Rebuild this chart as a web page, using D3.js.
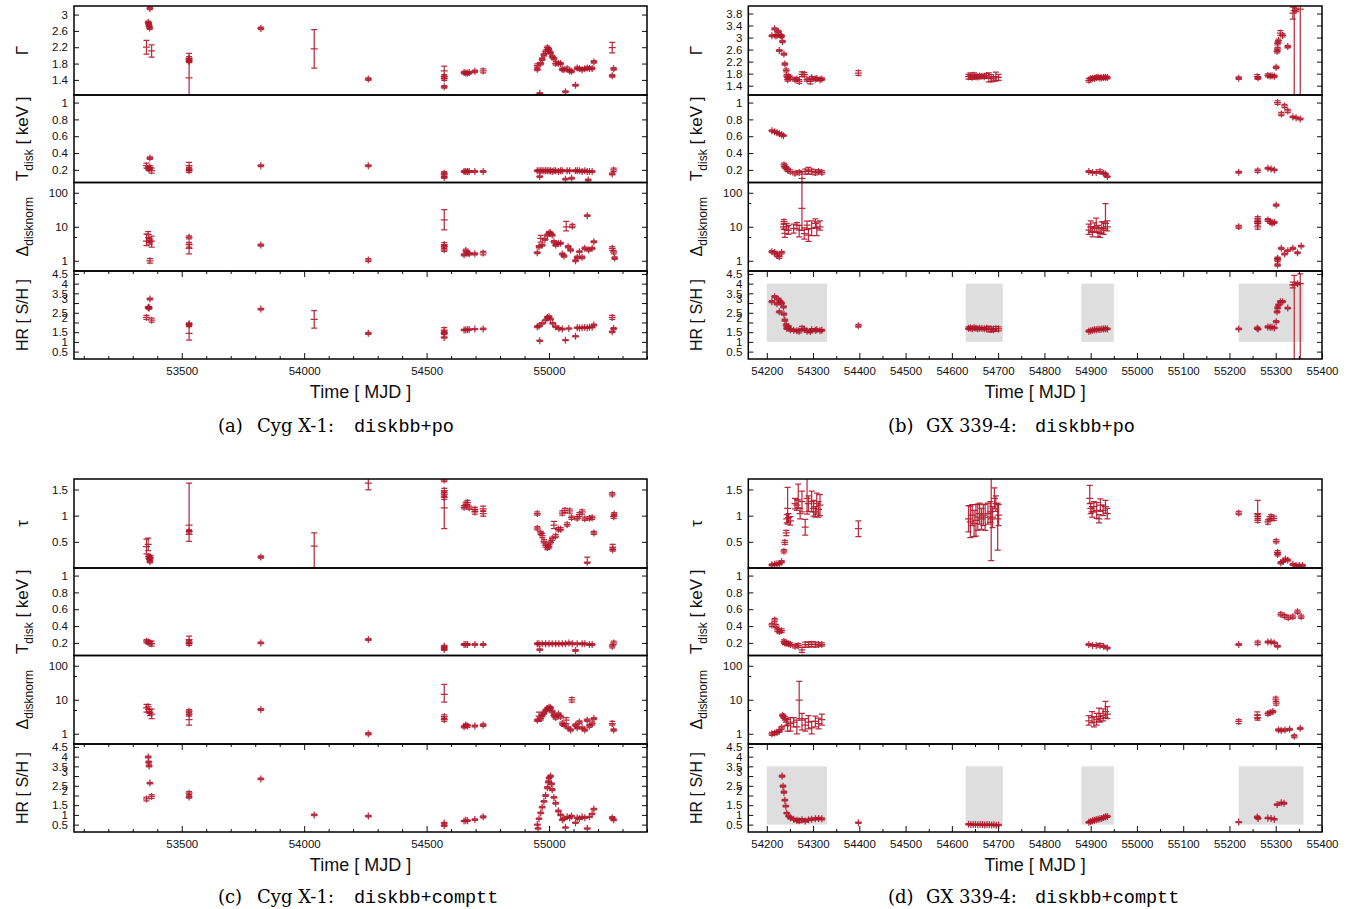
<!DOCTYPE html>
<html>
<head>
<meta charset="utf-8">
<script src="https://cdn.jsdelivr.net/npm/d3@7"></script>
<style>
  body { margin: 0; background: #fff; }
  svg text { font-family: "Liberation Sans", Arial, Helvetica, sans-serif; }
  svg text.serif { font-family: "DejaVu Serif", "Liberation Serif", serif; }
  svg text.mono { font-family: "Liberation Mono", "DejaVu Sans Mono", monospace; }
</style>
</head>
<body>
<svg id="fig" width="1353" height="909"></svg>
<script>
// ******************************** DATA ****************************************
// each point: [MJD, value, err] or [MJD, value, errLow, errHigh]

// ---------- Cyg X-1, diskbb+po ----------
var cygGammaPo = [
  [53356,2.20,0.17],[53363,2.81,0.03],[53365,2.77,0.03],[53367,2.72,0.03],[53369,2.67,0.03],[53370,3.15,0.03],[53377,2.11,0.15],
  [53530,1.93,0.04],[53530,1.89,0.04],[53530,1.85,0.03],[53530,1.45,0.6],
  [53823,2.66,0.03],[54041,2.16,0.47],[54262,1.42,0.03],
  [54572,1.62,0.12],[54572,1.48,0.05],[54572,1.43,0.04],[54572,1.23,0.03],
  [54653,1.58,0.03],[54660,1.57,0.03],[54667,1.56,0.03],[54674,1.58,0.03],[54697,1.61,0.03],[54731,1.62,0.05],
  [54952,1.75,0.04],[54952,1.66,0.03],[54962,1.07,0.02],[54966,1.80,0.03],[54972,1.91,0.03],[54979,2.01,0.03],
  [54986,2.09,0.04],[54993,2.19,0.04],[54997,2.15,0.04],[55000,2.13,0.04],[55006,2.06,0.03],[55013,1.97,0.03],
  [55020,1.92,0.03],[55027,1.80,0.04],[55038,1.81,0.03],[55047,1.80,0.03],[55054,1.66,0.03],[55061,1.65,0.03],
  [55067,1.11,0.02],[55074,1.67,0.04],[55084,1.62,0.03],[55092,1.61,0.03],[55108,1.27,0.02],[55115,1.69,0.03],
  [55124,1.67,0.03],[55135,1.65,0.03],[55146,1.67,0.03],[55156,1.69,0.03],[55165,1.68,0.03],[55176,1.68,0.03],
  [55183,1.84,0.03],
  [55258,2.19,0.13],[55264,1.67,0.03],[55258,1.50,0.03]
];
var cygTdiskPo = [
  [53356,0.25,0.03],[53363,0.22,0.02],[53367,0.21,0.02],[53370,0.34,0.015],[53370,0.23,0.02],[53377,0.19,0.03],
  [53530,0.25,0.04],[53530,0.21,0.02],[53530,0.19,0.02],
  [53823,0.25,0.01],[54262,0.25,0.01],
  [54572,0.16,0.02],[54572,0.14,0.02],[54572,0.11,0.01],
  [54653,0.18,0.01],[54660,0.18,0.02],[54667,0.18,0.01],[54674,0.18,0.01],[54697,0.18,0.01],[54731,0.18,0.01],
  [54952,0.19,0.01],[54959,0.19,0.01],[54962,0.12,0.01],[54966,0.19,0.01],[54972,0.19,0.01],[54979,0.19,0.01],
  [54986,0.19,0.01],[54993,0.19,0.01],[55000,0.19,0.01],[55006,0.19,0.01],[55013,0.18,0.01],[55020,0.19,0.01],
  [55027,0.19,0.01],[55038,0.18,0.01],[55047,0.19,0.01],[55054,0.19,0.01],[55067,0.09,0.01],[55074,0.19,0.01],
  [55084,0.19,0.01],[55092,0.10,0.01],[55108,0.19,0.01],[55115,0.19,0.01],[55124,0.19,0.01],[55135,0.18,0.01],
  [55146,0.19,0.01],[55156,0.18,0.01],[55160,0.08,0.01],[55165,0.18,0.01],[55176,0.18,0.01],
  [55258,0.15,0.01],[55264,0.20,0.02]
];
var cygNormPo = [
  [53356,3.8,1.0,2.3],[53363,6.0,1.2,1.2],[53367,4.0,0.5,0.5],[53370,3.6,0.5,0.8],[53377,3.8,1.3,1.5],[53370,1.0,0.15,0.15],
  [53530,4.9,0.5,0.5],[53530,3.0,0.5,0.5],[53530,2.3,0.7,0.8],
  [53823,2.9,0.2,0.2],[54262,1.05,0.1,0.1],
  [54572,15.8,7.7,16],[54572,3.0,0.3,0.4],[54572,2.6,0.3,0.3],[54572,2.1,0.2,0.3],
  [54653,1.5,0.1,0.1],[54660,2.0,0.2,0.2],[54667,1.7,0.2,0.2],[54674,1.6,0.1,0.1],[54697,1.6,0.1,0.1],[54731,1.7,0.2,0.2],
  [54952,1.73,0.1,0.1],[54959,2.59,0.2,0.2],[54966,4.56,1.0,1.0],[54972,2.9,0.2,0.2],[54983,4.25,0.3,0.3],
  [54993,5.7,0.4,0.4],[55000,6.7,0.5,0.5],[55006,6.5,0.5,0.5],[55013,5.7,0.4,0.4],[55020,3.64,0.3,0.3],
  [55027,2.9,0.2,0.2],[55038,3.25,0.2,0.2],[55047,3.3,0.2,0.2],[55054,1.58,0.1,0.1],[55061,1.38,0.1,0.1],
  [55070,10.0,2.5,4.5],[55078,2.59,0.2,0.2],[55088,2.07,0.15,0.15],[55095,10.5,1.0,1.2],[55108,1.0,0.06,0.06],
  [55115,1.26,0.1,0.1],[55124,1.85,0.1,0.1],[55135,1.26,0.1,0.1],[55146,2.32,0.2,0.2],[55156,21.2,1.0,1.0],
  [55162,2.07,0.15,0.15],[55176,2.32,0.15,0.15],[55183,3.64,0.2,0.2],
  [55258,2.32,0.3,0.3],[55264,1.8,0.2,0.2],[55268,1.2,0.1,0.1]
];
var cygHrPo = [
  [53356,2.26,0.1],[53363,2.76,0.05],[53365,2.78,0.05],[53367,2.74,0.05],[53370,3.21,0.05],[53377,2.12,0.1],
  [53530,1.93,0.05],[53530,1.88,0.05],[53530,1.44,0.35],
  [53823,2.69,0.04],[54041,2.16,0.45],[54262,1.44,0.05],
  [54572,1.61,0.12],[54572,1.50,0.05],[54572,1.42,0.05],[54572,1.23,0.03],
  [54653,1.61,0.03],[54660,1.63,0.03],[54667,1.62,0.03],[54674,1.64,0.03],[54697,1.66,0.03],[54731,1.67,0.04],
  [54952,1.78,0.04],[54959,1.82,0.04],[54962,1.06,0.03],[54972,1.95,0.04],[54986,2.12,0.04],[54993,2.26,0.05],
  [55000,2.29,0.05],[55006,2.17,0.04],[55015,1.95,0.04],[55027,1.78,0.04],[55040,1.69,0.04],[55054,1.66,0.04],
  [55067,1.09,0.03],[55081,1.69,0.03],[55108,1.29,0.03],[55115,1.73,0.03],[55124,1.72,0.03],[55135,1.73,0.03],
  [55146,1.74,0.03],[55156,1.73,0.03],[55165,1.75,0.03],[55176,1.76,0.03],[55183,1.87,0.04],
  [55258,2.26,0.1],[55264,1.69,0.04],[55258,1.52,0.04]
];

// ---------- Cyg X-1, diskbb+comptt ----------
var cygTauTt = [
  [53356,0.41,0.14],[53363,0.45,0.12],[53365,0.22,0.03],[53367,0.19,0.03],[53370,0.17,0.03],[53372,0.21,0.03],[53370,0.12,0.02],
  [53530,0.82,0.1,0.8],[53530,0.70,0.03],[53530,0.64,0.13,0.06],
  [53823,0.21,0.02],[54041,0.42,0.45,0.25],[54262,1.62,0.13,0.1],
  [54572,1.68,0.03],[54572,1.48,0.04],[54572,1.41,0.04],[54572,1.35,0.04],[54572,1.15,0.4,0.3],
  [54653,1.16,0.03],[54660,1.22,0.04],[54667,1.25,0.04],[54674,1.15,0.03],[54697,1.12,0.04],[54697,1.07,0.04],
  [54731,1.13,0.05],[54731,1.04,0.05],
  [54952,1.04,0.03],[54952,0.76,0.03],[54966,0.67,0.03],[54972,0.62,0.04],[54979,0.51,0.03],[54986,0.43,0.03],
  [54993,0.39,0.04],[55000,0.41,0.03],[55006,0.49,0.03],[55013,0.56,0.03],[55020,0.82,0.07],[55027,0.61,0.03],
  [55038,0.74,0.03],[55047,0.74,0.03],[55054,1.05,0.04],[55065,1.10,0.04],[55074,0.83,0.03],[55084,1.09,0.04],
  [55092,0.96,0.03],[55115,0.95,0.03],[55124,1.02,0.04],[55135,1.07,0.04],[55146,0.94,0.03],[55156,0.11,0.02,0.1],
  [55165,0.95,0.03],[55176,0.96,0.03],[55183,0.67,0.03],
  [55258,1.41,0.03],[55264,0.98,0.03],[55266,1.03,0.03],[55260,0.40,0.05],[55260,0.35,0.03]
];
var cygTdiskTt = [
  [53356,0.22,0.02],[53363,0.21,0.02],[53370,0.20,0.02],[53377,0.19,0.03],
  [53530,0.24,0.04],[53530,0.21,0.02],[53530,0.19,0.02],
  [53823,0.20,0.01],[54262,0.24,0.01],
  [54572,0.16,0.01],[54572,0.14,0.01],[54572,0.12,0.01],
  [54653,0.18,0.01],[54660,0.18,0.01],[54667,0.18,0.01],[54697,0.18,0.01],[54731,0.18,0.01],
  [54952,0.19,0.01],[54959,0.19,0.01],[54962,0.12,0.01],[54972,0.19,0.01],[54986,0.19,0.01],[55000,0.19,0.01],
  [55013,0.19,0.01],[55027,0.19,0.01],[55040,0.19,0.01],[55054,0.19,0.01],[55067,0.19,0.01],[55081,0.20,0.01],
  [55095,0.19,0.01],[55108,0.11,0.01],[55115,0.19,0.01],[55135,0.19,0.01],[55146,0.19,0.01],[55165,0.18,0.01],
  [55176,0.18,0.01],
  [55258,0.16,0.02],[55264,0.20,0.02]
];
var cygNormTt = [
  [53356,5.8,1.5,1.5],[53363,6.2,1.0,1.0],[53367,4.5,0.5,0.6],[53370,4.2,0.8,1.0],[53377,3.8,1.0,1.5],
  [53530,4.6,0.5,0.5],[53530,3.8,0.5,0.5],[53530,2.6,0.8,1.0],
  [53823,5.2,0.3,0.3],[54262,1.0,0.08,0.08],
  [54572,14.5,6,14],[54572,3.2,0.4,0.4],[54572,2.6,0.3,0.3],
  [54653,1.6,0.1,0.1],[54660,1.8,0.15,0.15],[54667,1.7,0.15,0.15],[54697,1.7,0.1,0.1],[54731,1.8,0.15,0.15],
  [54952,2.5,0.2,0.2],[54959,3.3,1.0,1.0],[54966,2.8,0.3,0.3],[54972,3.5,0.3,0.3],[54979,4.0,0.3,0.3],
  [54986,4.8,0.4,0.4],[54993,5.5,0.5,0.5],[55000,6.0,0.5,0.5],[55006,5.8,0.5,0.5],[55013,4.5,0.4,0.4],
  [55020,3.5,0.3,0.3],[55027,3.0,0.3,0.3],[55038,3.8,0.3,0.3],[55047,3.2,0.3,0.3],[55054,2.0,0.2,0.2],
  [55061,1.8,0.15,0.15],[55070,2.5,0.5,0.5],[55078,1.5,0.1,0.1],[55088,1.3,0.1,0.1],[55093,10,1.5,1.5],
  [55108,1.8,0.15,0.15],[55115,1.5,0.1,0.1],[55124,2.2,0.2,0.2],[55135,1.5,0.1,0.1],[55146,1.3,0.1,0.1],
  [55156,2.5,0.2,0.2],[55165,1.7,0.15,0.15],[55176,2.0,0.2,0.2],[55183,2.8,0.2,0.2],
  [55258,2.0,0.2,0.3],[55264,1.3,0.1,0.1]
];
var cygHrTt = [
  [53356,1.82,0.1],[53363,3.98,0.05],[53365,3.72,0.05],[53367,3.52,0.05],[53370,2.64,0.04],[53377,1.95,0.1],
  [53530,2.12,0.08],[53530,1.92,0.06],
  [53823,2.85,0.04],[54041,1.0,0.04],[54262,0.94,0.04],
  [54572,0.58,0.04],[54572,0.45,0.04],
  [54653,0.68,0.03],[54660,0.72,0.03],[54667,0.70,0.03],[54697,0.76,0.04],[54731,0.90,0.05],
  [54952,0.5,0.03],[54955,0.3,0.03],[54959,0.8,0.03],[54966,1.1,0.04],[54972,1.4,0.04],[54979,1.7,0.04],
  [54986,2.0,0.05],[54993,2.4,0.05],[54997,2.7,0.05],[55000,2.9,0.05],[55006,3.0,0.05],[55010,2.6,0.05],
  [55013,2.3,0.05],[55020,1.9,0.04],[55027,1.6,0.04],[55038,1.2,0.04],[55047,1.0,0.04],[55054,0.75,0.03],
  [55061,0.8,0.03],[55067,0.35,0.03],[55074,0.9,0.03],[55084,0.85,0.03],[55092,0.95,0.03],[55108,0.6,0.03],
  [55115,0.85,0.03],[55124,0.8,0.03],[55135,0.9,0.03],[55146,0.85,0.03],[55156,0.3,0.03],[55165,0.9,0.03],
  [55176,1.05,0.03],[55183,1.3,0.04],
  [55258,0.85,0.06],[55264,0.75,0.05]
];

// ---------- GX 339-4, diskbb+po ----------
var gxGammaPo = [
  [54211,3.06,0.03],[54217,3.29,0.03],[54218,3.06,0.03],[54222,3.06,0.04],[54225,3.20,0.04],[54227,2.57,0.03],
  [54229,3.07,0.04],[54232,3.05,0.04],[54234,2.87,0.04],[54237,2.45,0.03],[54239,2.12,0.04],[54242,1.91,0.05],
  [54243,1.73,0.05],[54245,1.60,0.05],[54247,1.70,0.06],[54251,1.66,0.06],[54261,1.60,0.05],[54265,1.62,0.05],
  [54270,1.54,0.06],[54276,1.78,0.08],[54281,1.78,0.06],[54287,1.60,0.05],[54294,1.54,0.08],[54297,1.66,0.05],
  [54305,1.62,0.05],[54308,1.64,0.04],[54315,1.60,0.04],[54319,1.62,0.04],
  [54398,1.82,0.08],
  [54636,1.70,0.08],[54640,1.73,0.1],[54644,1.68,0.07],[54648,1.75,0.08],[54652,1.70,0.06],[54656,1.69,0.06],
  [54660,1.72,0.06],[54665,1.71,0.05],[54670,1.70,0.06],[54675,1.73,0.08],[54680,1.68,0.15],[54685,1.65,0.12],
  [54690,1.63,0.07],[54695,1.70,0.15],[54701,1.68,0.1],
  [54896,1.58,0.06],[54900,1.63,0.05],[54904,1.65,0.05],[54908,1.64,0.04],[54912,1.66,0.05],[54916,1.68,0.06],
  [54920,1.65,0.04],[54924,1.66,0.04],[54928,1.67,0.04],[54932,1.68,0.05],[54936,1.67,0.04],
  [55220,1.65,0.04],[55260,1.70,0.07],[55262,1.66,0.04],[55283,1.74,0.05],[55288,1.72,0.04],[55292,1.73,0.04],
  [55297,1.71,0.04],[55301,2.01,0.04],[55303,2.54,0.05],[55304,2.62,0.05],[55304,2.81,0.05],[55306,2.90,0.05],
  [55310,3.15,0.08],[55315,3.07,0.05],[55326,2.70,0.04],[55337,3.81,0.2],[55340,3.90,3.5,0.5],[55344,3.92,0.06],
  [55353,3.95,3.5,0.5]
];
var gxTdiskPo = [
  [54211,0.666,0.01],[54217,0.654,0.01],[54222,0.642,0.01],[54227,0.63,0.01],[54232,0.618,0.01],[54236,0.607,0.01],
  [54237,0.259,0.02],[54239,0.24,0.02],[54242,0.22,0.02],[54245,0.20,0.02],[54251,0.18,0.02],[54261,0.16,0.02],
  [54270,0.17,0.02],[54276,0.10,0.08,0.08],[54283,0.18,0.03],[54290,0.19,0.04],[54297,0.18,0.03],[54305,0.17,0.03],
  [54312,0.18,0.02],[54319,0.17,0.02],
  [54896,0.18,0.01],[54904,0.17,0.01],[54912,0.17,0.01],[54920,0.18,0.02],[54928,0.16,0.01],[54932,0.15,0.01],
  [54936,0.12,0.01],
  [55220,0.172,0.01],[55261,0.19,0.02],[55283,0.22,0.01],[55290,0.21,0.01],[55297,0.20,0.01],
  [55304,1.0,0.02],[55312,0.864,0.02],[55319,0.96,0.02],[55326,0.9,0.02],[55337,0.83,0.01],[55344,0.82,0.01],
  [55353,0.805,0.01]
];
var gxNormPo = [
  [54211,1.85,0.15,0.15],[54217,1.75,0.15,0.15],[54222,1.47,0.15,0.15],[54227,1.32,0.15,0.15],[54232,1.75,0.15,0.15],
  [54236,10.0,1.5,2.0],[54237,14.1,2.0,2.0],[54239,6.4,1.5,2.0],[54243,10.0,2.0,2.5],[54247,8.0,2.0,3.0],
  [54258,9.0,2.5,3.0],[54265,11.2,2.5,2.0],[54270,8.0,3.0,3.0],[54276,34.8,27,170],[54281,6.3,2.0,3.0],
  [54287,11.2,3.0,3.5],[54290,5.7,2.0,3.0],[54297,9.0,3.5,6.0],[54305,12.6,3.0,4.5],[54308,9.0,3.5,5.0],
  [54315,10.0,2.0,5.0],
  [54896,8.0,2.0,4.0],[54900,10.0,3.0,5.0],[54904,7.0,2.0,3.0],[54908,9.0,2.0,4.0],[54912,10.0,3.0,8.0],
  [54916,7.0,2.0,4.0],[54920,6.4,1.5,3.0],[54924,9.0,2.5,5.0],[54928,8.0,2.0,6.0],[54932,12.6,4.0,35],
  [54936,10.0,2.5,5.0],
  [55220,10.0,1.0,1.0],[55261,17.7,2.0,2.0],[55261,14.1,1.5,1.5],[55261,12.6,1.5,1.5],[55261,10.0,1.5,2.5],
  [55283,15.8,1.5,1.5],[55288,14.1,1.5,1.5],[55292,12.6,1.0,1.0],[55297,13.5,1.0,1.0],[55301,43.6,3.0,3.0],
  [55304,1.18,0.1,0.1],[55304,0.75,0.06,0.06],[55304,1.05,0.1,0.1],[55312,2.32,0.15,0.15],[55319,1.58,0.1,0.1],
  [55326,1.98,0.1,0.1],[55337,2.32,0.15,0.15],[55347,1.72,0.1,0.1],[55355,2.7,0.15,0.15]
];
var gxHrPo = [
  [54211,3.07,0.05],[54217,3.33,0.05],[54222,2.96,0.05],[54225,3.2,0.05],[54227,2.55,0.05],[54229,3.07,0.05],
  [54232,3.0,0.05],[54236,2.8,0.05],[54237,2.43,0.05],[54239,2.12,0.05],[54242,1.87,0.06],[54243,1.70,0.06],
  [54247,1.78,0.06],[54251,1.62,0.06],[54258,1.60,0.06],[54265,1.58,0.06],[54270,1.55,0.08],[54276,1.70,0.1],
  [54281,1.65,0.06],[54287,1.55,0.06],[54294,1.53,0.06],[54297,1.62,0.06],[54305,1.60,0.06],[54308,1.62,0.05],
  [54315,1.58,0.05],[54319,1.60,0.05],
  [54398,1.83,0.07],
  [54636,1.70,0.07],[54640,1.72,0.08],[54644,1.68,0.06],[54648,1.73,0.07],[54652,1.70,0.06],[54656,1.68,0.06],
  [54660,1.70,0.06],[54665,1.69,0.05],[54670,1.68,0.06],[54675,1.70,0.08],[54680,1.66,0.15],[54685,1.64,0.12],
  [54690,1.62,0.07],[54695,1.68,0.12],[54701,1.67,0.1],
  [54896,1.55,0.05],[54900,1.58,0.05],[54904,1.60,0.05],[54908,1.62,0.04],[54912,1.62,0.05],[54916,1.65,0.05],
  [54920,1.64,0.04],[54924,1.66,0.04],[54928,1.66,0.04],[54932,1.68,0.05],[54936,1.67,0.04],
  [55220,1.67,0.04],[55260,1.70,0.06],[55262,1.66,0.04],[55283,1.77,0.05],[55288,1.75,0.04],[55292,1.76,0.04],
  [55297,1.72,0.04],[55301,2.04,0.05],[55303,2.55,0.05],[55304,2.75,0.05],[55306,2.9,0.05],[55310,3.07,0.06],
  [55315,3.07,0.05],[55326,2.74,0.04],[55337,3.93,0.15],[55340,3.93,3.9,0.5],[55347,4.0,0.06],[55353,4.0,3.9,0.5]
];

// ---------- GX 339-4, diskbb+comptt ----------
var gxTauTt = [
  [54211,0.06,0.02],[54217,0.07,0.02],[54222,0.08,0.02],[54227,0.08,0.02],[54232,0.12,0.02],[54237,0.32,0.03],
  [54239,0.49,0.04],[54242,0.67,0.05],[54243,0.94,0.08],[54245,1.14,0.3,0.4],[54247,0.96,0.08],[54251,0.90,0.08],
  [54261,1.23,0.1],[54265,1.20,0.1],[54268,1.30,0.15,0.3],[54272,1.04,0.1],[54276,1.27,0.2],[54283,0.78,0.15],
  [54287,1.33,0.3,0.5],[54290,1.23,0.15],[54297,1.27,0.2],[54301,1.14,0.15],[54305,1.07,0.1],[54308,1.23,0.2],
  [54312,1.12,0.15],[54315,1.20,0.2],
  [54398,0.75,0.15],
  [54636,0.94,0.25],[54640,0.88,0.3],[54644,1.01,0.2],[54648,0.85,0.25],[54652,0.91,0.3],[54656,0.97,0.25],
  [54660,1.04,0.2],[54664,0.94,0.2],[54668,1.01,0.2],[54672,0.97,0.25],[54678,1.04,0.2],[54683,1.07,0.2],
  [54685,0.94,0.8,0.8],[54688,0.97,0.2],[54692,1.33,0.2],[54695,1.23,0.15],[54699,0.94,0.6,0.3],[54701,1.01,0.2],
  [54898,1.33,0.1,0.25],[54900,1.14,0.1],[54903,1.07,0.1],[54907,1.17,0.1],[54913,1.10,0.15],[54918,0.94,0.08],
  [54921,1.20,0.12],[54927,1.10,0.1],[54932,1.17,0.12],[54936,1.04,0.1],
  [55220,1.05,0.03],[55261,1.04,0.05,0.25],[55261,0.98,0.04],[55261,0.91,0.04],[55283,0.88,0.04],[55287,0.94,0.04],
  [55290,0.98,0.04],[55296,0.95,0.04],[55301,0.51,0.03],[55304,0.30,0.03],[55304,0.26,0.03],[55311,0.10,0.02],
  [55316,0.13,0.02],[55321,0.17,0.02],[55326,0.15,0.02],[55337,0.07,0.02],[55344,0.05,0.02],[55351,0.05,0.02],
  [55358,0.05,0.02]
];
var gxTdiskTt = [
  [54211,0.413,0.02],[54217,0.472,0.02],[54220,0.40,0.02],[54223,0.354,0.02],[54227,0.335,0.02],[54232,0.345,0.02],
  [54237,0.215,0.02],[54239,0.20,0.02],[54243,0.195,0.02],[54247,0.19,0.02],[54251,0.18,0.02],[54261,0.16,0.02],
  [54268,0.17,0.02],[54276,0.116,0.03],[54283,0.18,0.03],[54290,0.18,0.03],[54297,0.185,0.03],[54305,0.18,0.03],
  [54312,0.18,0.02],[54319,0.18,0.02],
  [54896,0.18,0.01],[54904,0.17,0.01],[54912,0.17,0.01],[54920,0.17,0.02],[54928,0.16,0.01],[54936,0.14,0.01],
  [55220,0.18,0.01],[55261,0.20,0.02],[55283,0.21,0.01],[55290,0.21,0.01],[55297,0.20,0.01],[55304,0.16,0.01],
  [55311,0.54,0.02],[55319,0.52,0.02],[55327,0.50,0.02],[55337,0.51,0.02],[55347,0.57,0.02],[55355,0.51,0.02]
];
var gxNormTt = [
  [54211,1.0,0.1,0.1],[54217,1.05,0.1,0.1],[54222,1.1,0.1,0.1],[54227,1.2,0.1,0.1],[54232,1.5,0.15,0.15],
  [54234,3.5,0.3,0.3],[54236,3.2,0.3,0.3],[54239,2.8,0.3,0.4],[54242,2.2,0.5,0.6],[54245,1.8,0.6,0.8],
  [54251,2.0,0.8,1.0],[54258,2.2,0.6,0.8],[54265,1.6,0.6,0.9],[54270,9.8,7,25],[54276,2.5,1.2,1.5],
  [54283,1.8,0.6,1.0],[54290,2.2,0.8,1.2],[54297,1.5,0.5,0.8],[54305,2.3,0.7,1.0],[54312,2.0,0.6,0.9],
  [54319,2.6,0.8,1.2],
  [54896,2.4,0.6,1.0],[54903,3.0,0.9,1.5],[54907,2.2,0.6,1.0],[54913,2.6,0.8,1.4],[54918,3.2,0.9,2.5],
  [54921,2.8,0.6,1.2],[54927,3.4,1.0,2.0],[54932,4.5,1.5,4.5],[54936,3.8,1.0,2.5],
  [55220,2.3,0.3,0.3],[55260,3.6,0.8,0.8],[55261,3.0,0.5,0.5],[55283,3.9,0.4,0.4],[55288,4.2,0.4,0.4],
  [55294,4.5,0.4,0.4],[55300,10.5,1.5,1.5],[55301,8.0,1.0,1.0],[55306,1.3,0.1,0.1],[55312,1.25,0.1,0.1],
  [55320,1.3,0.1,0.1],[55330,1.35,0.1,0.1],[55340,0.85,0.08,0.08],[55353,1.45,0.1,0.1]
];
var gxHrTt = [
  [54233,3.0,0.05],[54235,2.48,0.05],[54237,2.17,0.05],[54239,1.76,0.04],[54241,1.45,0.04],[54243,1.09,0.04],
  [54247,0.94,0.04],[54251,0.85,0.05],[54258,0.78,0.05],[54265,0.72,0.06],[54270,0.70,0.1],[54276,0.75,0.06],
  [54283,0.68,0.05],[54290,0.75,0.05],[54297,0.78,0.05],[54305,0.80,0.05],[54312,0.82,0.05],[54319,0.80,0.05],
  [54398,0.60,0.03],
  [54636,0.52,0.03],[54641,0.50,0.03],[54646,0.51,0.03],[54651,0.50,0.03],[54656,0.49,0.03],[54661,0.50,0.03],
  [54666,0.50,0.03],[54671,0.48,0.03],[54676,0.50,0.03],[54681,0.49,0.03],[54686,0.48,0.03],[54691,0.49,0.03],
  [54696,0.47,0.03],[54701,0.48,0.03],
  [54896,0.62,0.04],[54900,0.66,0.04],[54904,0.70,0.04],[54908,0.72,0.04],[54912,0.75,0.04],[54916,0.78,0.04],
  [54920,0.80,0.04],[54924,0.82,0.04],[54928,0.86,0.04],[54932,0.90,0.05],[54936,0.92,0.05],
  [55220,0.63,0.03],[55260,0.89,0.05],[55262,0.82,0.04],[55283,0.84,0.03],[55290,0.82,0.03],[55297,0.78,0.03],
  [55303,1.53,0.04],[55312,1.62,0.04],[55318,1.60,0.04]
];

// shaded intervals in the GX 339-4 HR panels
var gxShadeSpans = [[54200, 54330], [54630, 54710], [54880, 54950], [55220, 55360]];
var gxShadeHrPo = [1, 4];
var gxShadeHrTt = [0.5, 3.5];

// tick values
var gammaTicksCyg = [1.4, 1.8, 2.2, 2.6, 3];
var gammaTicksGx = [1.4, 1.8, 2.2, 2.6, 3, 3.4, 3.8];
var tauTicks = [0.5, 1, 1.5];
var tdiskTicks = [0.2, 0.4, 0.6, 0.8, 1];
var normTicks = [1, 10, 100];
var normMinor = [5, 50];
var hrTicks = [0.5, 1, 1.5, 2, 2.5, 3, 3.5, 4, 4.5];
var cygMajorX = [53500, 54000, 54500, 55000];
var gxMajorX = d3.range(54200, 55401, 100);

// ***************************** CANVAS SET UP **********************************
var svg = d3.select("#fig");
var red = "#b0162a";
var tickFont = 11.5;
var rowEdges = [6, 95, 182.5, 271, 359];   // top of each subplot + bottom of the last

var panels = [
  {id: "a", x0: 74, x1: 647, dy: 0, xDomain: [53060, 55400], major: cygMajorX, minorStep: 100,
   cap: ["(a)", "Cyg X-1:", "diskbb+po"], capX: [218, 257, 354],
   subplots: [
     {data: cygGammaPo, domain: [1.03, 3.21], ticks: gammaTicksCyg, label: "Γ"},
     {data: cygTdiskPo, domain: [0.05, 1.09], ticks: tdiskTicks, label: "tdisk"},
     {data: cygNormPo, domain: [0.5, 200], log: true, ticks: normTicks, label: "norm"},
     {data: cygHrPo, domain: [0.12, 4.65], ticks: hrTicks, label: "hr"}]},
  {id: "b", x0: 748.3, x1: 1322, dy: 0, xDomain: [54160, 55400], major: gxMajorX, minorStep: 50,
   cap: ["(b)", "GX 339-4:", "diskbb+po"], capX: [888, 926, 1035],
   subplots: [
     {data: gxGammaPo, domain: [1.09, 4.05], ticks: gammaTicksGx, label: "Γ"},
     {data: gxTdiskPo, domain: [0.05, 1.09], ticks: tdiskTicks, label: "tdisk"},
     {data: gxNormPo, domain: [0.5, 200], log: true, ticks: normTicks, label: "norm"},
     {data: gxHrPo, domain: [0.12, 4.65], ticks: hrTicks, label: "hr", shade: gxShadeHrPo}]},
  {id: "c", x0: 74, x1: 647, dy: 473, xDomain: [53060, 55400], major: cygMajorX, minorStep: 100,
   cap: ["(c)", "Cyg X-1:", "diskbb+comptt"], capX: [218, 257, 354],
   subplots: [
     {data: cygTauTt, domain: [0, 1.7], ticks: tauTicks, label: "τ"},
     {data: cygTdiskTt, domain: [0.05, 1.09], ticks: tdiskTicks, label: "tdisk"},
     {data: cygNormTt, domain: [0.5, 200], log: true, ticks: normTicks, label: "norm"},
     {data: cygHrTt, domain: [0.12, 4.65], ticks: hrTicks, label: "hr"}]},
  {id: "d", x0: 748.3, x1: 1322, dy: 473, xDomain: [54160, 55400], major: gxMajorX, minorStep: 50,
   cap: ["(d)", "GX 339-4:", "diskbb+comptt"], capX: [888, 926, 1035],
   subplots: [
     {data: gxTauTt, domain: [0, 1.7], ticks: tauTicks, label: "τ"},
     {data: gxTdiskTt, domain: [0.05, 1.09], ticks: tdiskTicks, label: "tdisk"},
     {data: gxNormTt, domain: [0.5, 200], log: true, ticks: normTicks, label: "norm"},
     {data: gxHrTt, domain: [0.12, 4.65], ticks: hrTicks, label: "hr", shade: gxShadeHrTt}]}
];

var fmt = d3.format("~g");

// style an axis group: no domain line, our fonts
function styleAxis(g) {
  g.select(".domain").remove();
  g.attr("font-size", tickFont)
    .attr("font-family", null)
    .attr("color", "#111");
  g.selectAll(".tick line").attr("stroke-width", 1);
}

// error bar + "+" marker path
function pointPath(d, x, y, floor) {
  var lo = d[2], hi = d.length > 3 ? d[3] : d[2];
  var cx = x(d[0]), cy = y(d[1]);
  var yl = y(Math.max(d[1] - lo, floor)), yh = y(d[1] + hi);
  return "M" + cx + "," + yl + "V" + yh +
    "M" + (cx - 3) + "," + yl + "H" + (cx + 3) +
    "M" + (cx - 3) + "," + yh + "H" + (cx + 3) +
    "M" + (cx - 3.5) + "," + cy + "H" + (cx + 3.5) +
    "M" + cx + "," + (cy - 3.5) + "V" + (cy + 3.5);
}

// rotated y-axis labels
function yLabel(kind, cx, cy) {
  var t = svg.append("text")
    .attr("transform", "translate(" + cx + "," + cy + ") rotate(-90)")
    .attr("text-anchor", "middle")
    .attr("dy", "0.35em")
    .attr("fill", "#111");
  if (kind === "tdisk") {
    t.attr("font-size", 17);
    t.append("tspan").text("T");
    t.append("tspan").attr("dy", 5).attr("font-size", 12).text("disk");
    t.append("tspan").attr("dy", -5).text(" [ keV ]");
  } else if (kind === "norm") {
    t.attr("font-size", 16);
    t.append("tspan").text("Δ");
    t.append("tspan").attr("dy", 5).attr("font-size", 12).text("disknorm");
  } else if (kind === "hr") {
    t.attr("font-size", 16).text("HR [ S/H ]");
  } else {
    t.attr("font-size", 17).text(kind);
  }
}

// ******************************** DRAW ****************************************
panels.forEach(function(p) {
  var x = d3.scaleLinear().domain(p.xDomain).range([p.x0, p.x1]);
  var rows = rowEdges.map(function(r) { return r + p.dy; });
  var minorX = d3.range(Math.ceil(p.xDomain[0] / p.minorStep) * p.minorStep, p.xDomain[1] + 1, p.minorStep)
    .filter(function(v) { return p.major.indexOf(v) < 0; });

  p.subplots.forEach(function(sp, k) {
    var top = rows[k], bot = rows[k + 1];
    var y = (sp.log ? d3.scaleLog() : d3.scaleLinear()).domain(sp.domain).range([bot, top]);
    var clipId = "clip-" + p.id + k;

    svg.append("clipPath").attr("id", clipId)
      .append("rect").attr("x", p.x0).attr("y", top).attr("width", p.x1 - p.x0).attr("height", bot - top);

    // grey shaded intervals
    if (sp.shade) {
      svg.append("g").selectAll("rect").data(gxShadeSpans).enter().append("rect")
        .attr("x", function(s) { return x(s[0]); })
        .attr("width", function(s) { return x(s[1]) - x(s[0]); })
        .attr("y", y(sp.shade[1]))
        .attr("height", y(sp.shade[0]) - y(sp.shade[1]))
        .attr("fill", "#dedede");
    }

    // points with error bars
    var floor = sp.log ? sp.domain[0] * 0.5 : sp.domain[0] - 1;
    svg.append("g").attr("clip-path", "url(#" + clipId + ")")
      .selectAll("path").data(sp.data).enter().append("path")
      .attr("d", function(d) { return pointPath(d, x, y, floor); })
      .attr("fill", "none")
      .attr("stroke", red)
      .attr("stroke-width", 1.25)
      .attr("stroke-opacity", 0.9);

    // y axes, ticks inward on both sides
    var left = svg.append("g").attr("transform", "translate(" + p.x0 + ",0)")
      .call(d3.axisLeft(y).tickValues(sp.ticks).tickSize(-5).tickPadding(6).tickFormat(fmt))
      .call(styleAxis);
    svg.append("g").attr("transform", "translate(" + p.x1 + ",0)")
      .call(d3.axisRight(y).tickValues(sp.ticks).tickSize(-5).tickFormat(""))
      .call(styleAxis);
    if (sp.log) {
      svg.append("g").attr("transform", "translate(" + p.x0 + ",0)")
        .call(d3.axisLeft(y).tickValues(normMinor).tickSize(-3).tickFormat(""))
        .call(styleAxis);
      svg.append("g").attr("transform", "translate(" + p.x1 + ",0)")
        .call(d3.axisRight(y).tickValues(normMinor).tickSize(-3).tickFormat(""))
        .call(styleAxis);
    }
    if (sp.label === "hr") {
      // the "3" and "2" labels sit a little high in the original
      left.selectAll(".tick text")
        .filter(function(d) { return d === 3 || d === 2; })
        .attr("transform", "translate(0,-4.5)");

      // time axis, bottom and mirrored top
      svg.append("g").attr("transform", "translate(0," + bot + ")")
        .call(d3.axisBottom(x).tickValues(p.major).tickSize(-6).tickPadding(8).tickFormat(fmt))
        .call(styleAxis);
      svg.append("g").attr("transform", "translate(0," + bot + ")")
        .call(d3.axisBottom(x).tickValues(minorX).tickSize(-3).tickFormat(""))
        .call(styleAxis);
      svg.append("g").attr("transform", "translate(0," + top + ")")
        .call(d3.axisTop(x).tickValues(p.major).tickSize(-6).tickFormat(""))
        .call(styleAxis);
      svg.append("g").attr("transform", "translate(0," + top + ")")
        .call(d3.axisTop(x).tickValues(minorX).tickSize(-3).tickFormat(""))
        .call(styleAxis);
    }

    // frame
    svg.append("rect")
      .attr("x", p.x0).attr("y", top)
      .attr("width", p.x1 - p.x0).attr("height", bot - top)
      .attr("fill", "none").attr("stroke", "#000").attr("stroke-width", 1.5);

    yLabel(sp.label, p.x0 - 52, (top + bot) / 2);
  });

  // time label
  svg.append("text")
    .attr("x", (p.x0 + p.x1) / 2).attr("y", 398 + p.dy)
    .attr("text-anchor", "middle")
    .attr("font-size", 18)
    .attr("fill", "#111")
    .text("Time [ MJD ]");

  // caption: serif label, typewriter model name
  var capY = 432 + p.dy - (p.dy ? 2 : 0);
  svg.append("text").attr("class", "serif").attr("x", p.capX[0]).attr("y", capY)
    .attr("font-size", 18).text(p.cap[0]);
  svg.append("text").attr("class", "serif").attr("x", p.capX[1]).attr("y", capY)
    .attr("font-size", 18).text(p.cap[1]);
  svg.append("text").attr("class", "mono").attr("x", p.capX[2]).attr("y", capY)
    .attr("font-size", 18.5).text(p.cap[2]);
});
</script>
</body>
</html>
